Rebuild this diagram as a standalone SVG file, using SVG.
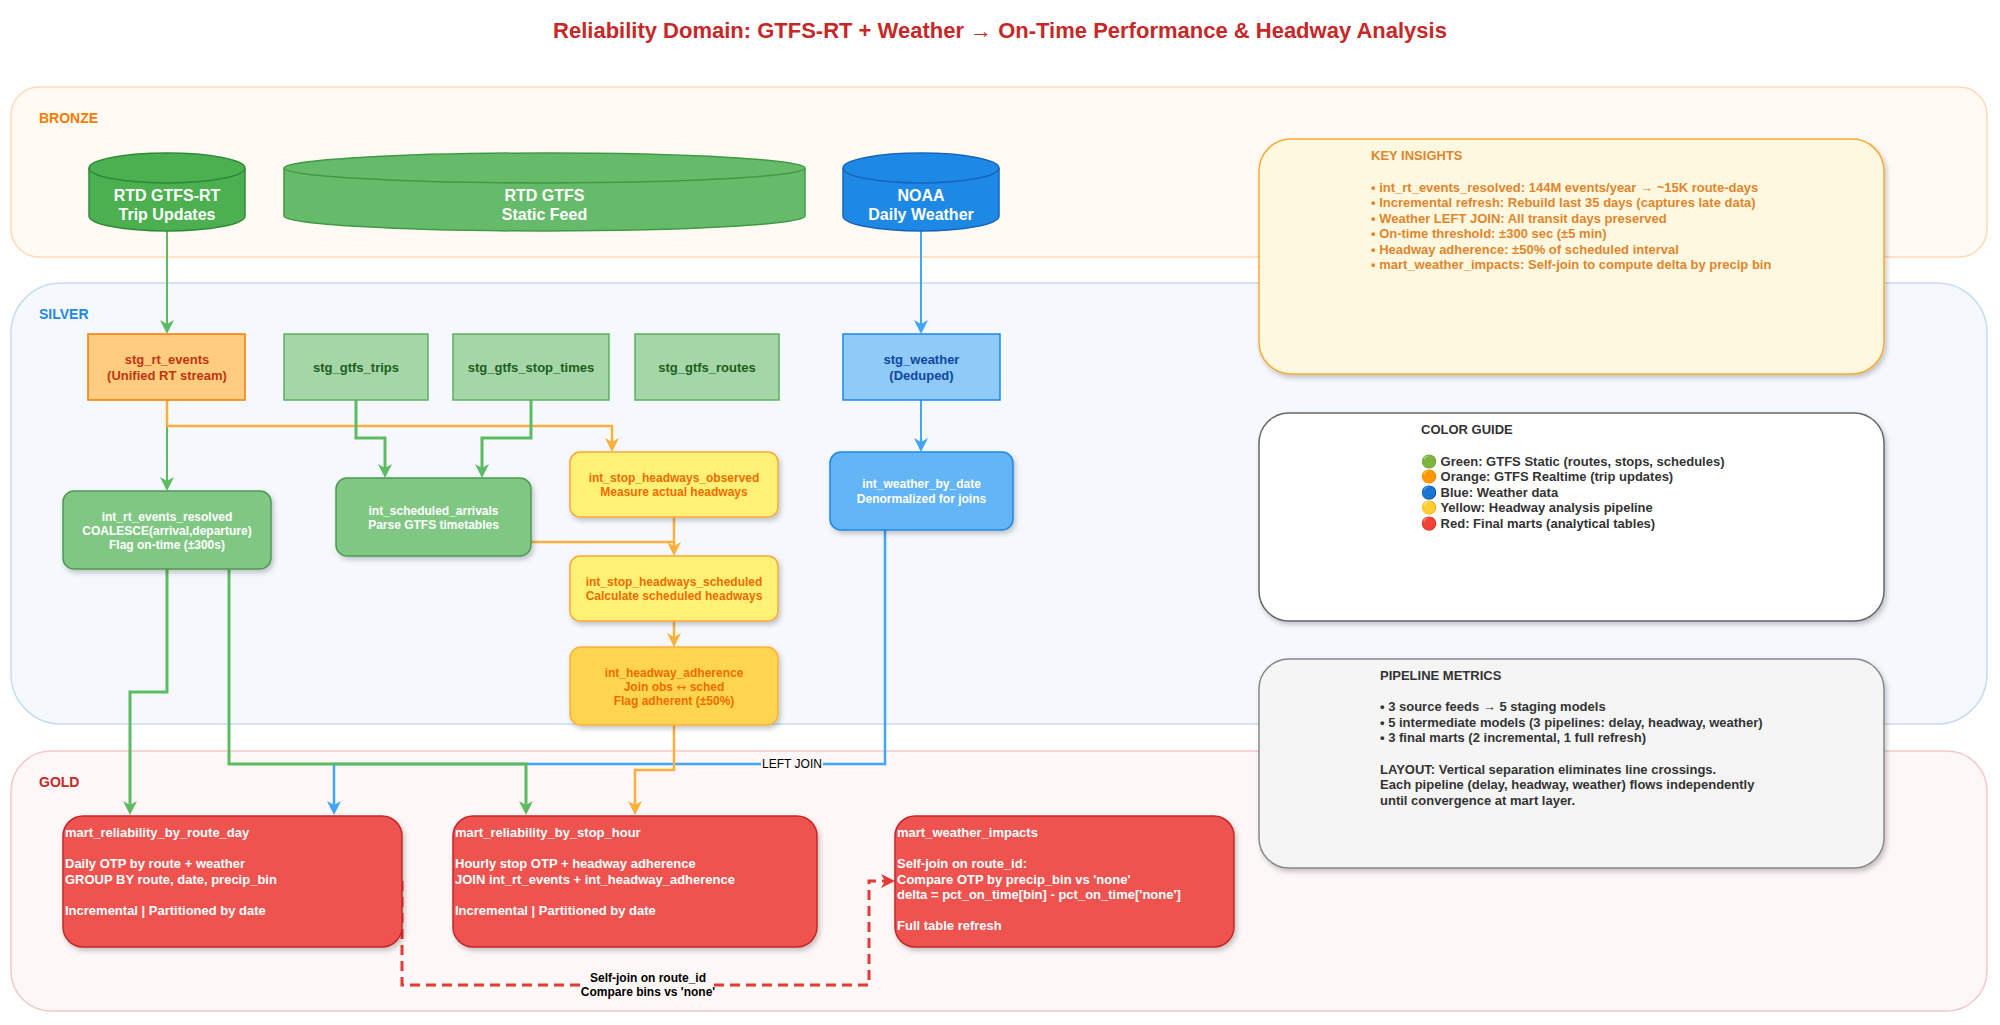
<svg xmlns="http://www.w3.org/2000/svg" width="2000" height="1025" viewBox="0 0 2000 1025">
<defs>
<style>
text { font-family: "Liberation Sans", Arial, Helvetica, sans-serif; }
.b { font-weight: bold; }
.c { text-anchor: middle; }
.title { font-size: 22px; font-weight: bold; fill: #C62828; }
.layer { font-size: 14px; font-weight: bold; }
.cyl { font-size: 16px; font-weight: bold; fill: #ffffff; text-anchor: middle; }
.stg { font-size: 13px; font-weight: bold; text-anchor: middle; }
.int { font-size: 12px; font-weight: bold; text-anchor: middle; }
.mart { font-size: 13px; font-weight: bold; fill: #ffffff; }
.side { font-size: 13px; font-weight: bold; }
.lbl { font-size: 12px; fill: #000000; }
.sym { font-family: "DejaVu Sans", sans-serif; }
.e { fill: none; stroke-linejoin: miter; }
.g { stroke: #5DBB63; }
.o { stroke: #FBB03B; }
.bl { stroke: #42A5F5; }
</style>
<filter id="sh" x="-10%" y="-10%" width="130%" height="140%">
<feDropShadow dx="2" dy="3" stdDeviation="2.5" flood-color="#000" flood-opacity="0.22"/>
</filter>
<marker id="ag" viewBox="0 0 14 14" markerWidth="14" markerHeight="14" refX="7" refY="7" orient="auto" markerUnits="userSpaceOnUse"><path d="M0,0 L14,7 L0,14 L4,7 Z" fill="#5DBB63"/></marker>
<marker id="ao" viewBox="0 0 14 14" markerWidth="14" markerHeight="14" refX="7" refY="7" orient="auto" markerUnits="userSpaceOnUse"><path d="M0,0 L14,7 L0,14 L4,7 Z" fill="#FBB03B"/></marker>
<marker id="ab" viewBox="0 0 14 14" markerWidth="14" markerHeight="14" refX="7" refY="7" orient="auto" markerUnits="userSpaceOnUse"><path d="M0,0 L14,7 L0,14 L4,7 Z" fill="#42A5F5"/></marker>
<marker id="ar" viewBox="0 0 14 14" markerWidth="14" markerHeight="14" refX="7" refY="7" orient="auto" markerUnits="userSpaceOnUse"><path d="M0,0 L14,7 L0,14 L4,7 Z" fill="#E53935"/></marker>
</defs>
<rect width="2000" height="1025" fill="#ffffff"/>

<text class="title c" x="1000" y="38">Reliability Domain: GTFS-RT + Weather → On-Time Performance &amp; Headway Analysis</text>

<!-- Layers -->
<g id="layer-bronze">
<rect x="11" y="87" width="1976" height="170" rx="28" fill="#FFFAF4" stroke="#FFD9B5" stroke-width="1.5"/>
<text class="layer" x="39" y="123" fill="#F57C00">BRONZE</text>
</g>
<g id="layer-silver">
<rect x="11" y="283" width="1976" height="441" rx="50" fill="#F5F9FE" stroke="#C5DCF2" stroke-width="1.5"/>
<text class="layer" x="39" y="319" fill="#1E88E5">SILVER</text>
</g>
<g id="layer-gold">
<rect x="11" y="751" width="1976" height="260" rx="40" fill="#FDF7F7" stroke="#F5C8C8" stroke-width="1.5"/>
<text class="layer" x="39" y="787" fill="#C62828">GOLD</text>
</g>

<!-- Connectors -->
<g id="connectors" stroke-width="2">
<path class="e g" d="M167,231 V327" marker-end="url(#ag)"/>
<path class="e bl" d="M921,231 V327" marker-end="url(#ab)"/>
<path class="e g" d="M167,426 V484" marker-end="url(#ag)"/>
<path class="e o" d="M167,400 V426 H612 V445" marker-end="url(#ao)" stroke-width="2.5"/>
<path class="e g" d="M356,400 V438 H385 V471" marker-end="url(#ag)" stroke-width="3"/>
<path class="e g" d="M531,400 V438 H482 V471" marker-end="url(#ag)" stroke-width="3"/>
<path class="e o" d="M531,542 H674" stroke-width="2.5"/>
<path class="e o" d="M674,517 V549" marker-end="url(#ao)" stroke-width="2.5"/>
<path class="e o" d="M674,621 V640" marker-end="url(#ao)" stroke-width="2.5"/>
<path class="e bl" d="M921,400 V445" marker-end="url(#ab)"/>
<path class="e bl" d="M885,530 V764 H334 V808" marker-end="url(#ab)" stroke-width="2.5"/>
<rect x="761" y="756" width="62" height="15" fill="#FDF7F7"/>
<text class="lbl c" x="792" y="768">LEFT JOIN</text>
<path class="e g" d="M167,569 V692 H130 V808" marker-end="url(#ag)" stroke-width="3"/>
<path class="e g" d="M229,569 V764 H526 V808" marker-end="url(#ag)" stroke-width="3"/>
<path class="e o" d="M674,725 V770 H635 V808" marker-end="url(#ao)" stroke-width="2.5"/>
<path class="e" d="M402,881 V985 H869 V881 H888" stroke="#E53935" stroke-width="3" stroke-dasharray="10 6" marker-end="url(#ar)"/>
<rect x="585" y="970" width="126" height="30" fill="#FDF7F7"/>
<text class="lbl b c" x="648" y="982">Self-join on route_id</text>
<text class="lbl b c" x="648" y="996">Compare bins vs 'none'</text>
</g>

<!-- Bronze sources -->
<g id="src-gtfs-rt">
<path d="M89,168 V216 A78,15 0 0 0 245,216 V168 A78,15 0 0 0 89,168 Z" fill="#4CAF50" stroke="#2E8B37" stroke-width="1.5"/>
<path d="M89,168 A78,15 0 0 0 245,168" fill="none" stroke="#2E8B37" stroke-width="1.5"/>
<text class="cyl" x="167" y="201">RTD GTFS-RT</text>
<text class="cyl" x="167" y="220">Trip Updates</text>
</g>
<g id="src-gtfs-static">
<path d="M284,168 V216 A260.5,15 0 0 0 805,216 V168 A260.5,15 0 0 0 284,168 Z" fill="#66BB6A" stroke="#3E9A43" stroke-width="1.5"/>
<path d="M284,168 A260.5,15 0 0 0 805,168" fill="none" stroke="#3E9A43" stroke-width="1.5"/>
<text class="cyl" x="544.5" y="201">RTD GTFS</text>
<text class="cyl" x="544.5" y="220">Static Feed</text>
</g>
<g id="src-noaa">
<path d="M843,168 V216 A78,15 0 0 0 999,216 V168 A78,15 0 0 0 843,168 Z" fill="#1E88E5" stroke="#1565C0" stroke-width="1.5"/>
<path d="M843,168 A78,15 0 0 0 999,168" fill="none" stroke="#1565C0" stroke-width="1.5"/>
<text class="cyl" x="921" y="201">NOAA</text>
<text class="cyl" x="921" y="220">Daily Weather</text>
</g>

<!-- Silver staging -->
<g id="stg_rt_events">
<rect x="88" y="334" width="157" height="66" fill="#FFCC80" stroke="#F57C00" stroke-width="1.5"/>
<text class="stg" x="167" y="363.5" fill="#BF360C">stg_rt_events</text>
<text class="stg" x="167" y="379.5" fill="#BF360C">(Unified RT stream)</text>
</g>
<g id="stg_gtfs_trips">
<rect x="284" y="334" width="144" height="66" fill="#A5D6A7" stroke="#5DAE61" stroke-width="1.5"/>
<text class="stg" x="356" y="371.5" fill="#1B5E20">stg_gtfs_trips</text>
</g>
<g id="stg_gtfs_stop_times">
<rect x="453" y="334" width="156" height="66" fill="#A5D6A7" stroke="#5DAE61" stroke-width="1.5"/>
<text class="stg" x="531" y="371.5" fill="#1B5E20">stg_gtfs_stop_times</text>
</g>
<g id="stg_gtfs_routes">
<rect x="635" y="334" width="144" height="66" fill="#A5D6A7" stroke="#5DAE61" stroke-width="1.5"/>
<text class="stg" x="707" y="371.5" fill="#1B5E20">stg_gtfs_routes</text>
</g>
<g id="stg_weather">
<rect x="843" y="334" width="157" height="66" fill="#90CAF9" stroke="#1E88E5" stroke-width="1.5"/>
<text class="stg" x="921.5" y="363.5" fill="#0D47A1">stg_weather</text>
<text class="stg" x="921.5" y="379.5" fill="#0D47A1">(Deduped)</text>
</g>

<!-- Silver intermediate -->
<g id="int_rt_events_resolved">
<rect x="63" y="491" width="208" height="78" rx="11" fill="#81C784" stroke="#4E9A52" stroke-width="1.5" filter="url(#sh)"/>
<text class="int" x="167" y="521" fill="#fff">int_rt_events_resolved</text>
<text class="int" x="167" y="534.5" fill="#fff">COALESCE(arrival,departure)</text>
<text class="int" x="167" y="548.5" fill="#fff">Flag on-time (±300s)</text>
</g>
<g id="int_scheduled_arrivals">
<rect x="336" y="478" width="195" height="78" rx="11" fill="#81C784" stroke="#4E9A52" stroke-width="1.5" filter="url(#sh)"/>
<text class="int" x="433.5" y="514.5" fill="#fff">int_scheduled_arrivals</text>
<text class="int" x="433.5" y="528.5" fill="#fff">Parse GTFS timetables</text>
</g>
<g id="int_stop_headways_observed">
<rect x="570" y="452" width="208" height="65" rx="10" fill="#FFF176" stroke="#F9A73B" stroke-width="1.5" filter="url(#sh)"/>
<text class="int" x="674" y="481.5" fill="#EF6C00">int_stop_headways_observed</text>
<text class="int" x="674" y="496" fill="#EF6C00">Measure actual headways</text>
</g>
<g id="int_stop_headways_scheduled">
<rect x="570" y="556" width="208" height="65" rx="10" fill="#FFF176" stroke="#F9A73B" stroke-width="1.5" filter="url(#sh)"/>
<text class="int" x="674" y="585.5" fill="#EF6C00">int_stop_headways_scheduled</text>
<text class="int" x="674" y="600" fill="#EF6C00">Calculate scheduled headways</text>
</g>
<g id="int_headway_adherence">
<rect x="570" y="647" width="208" height="78" rx="11" fill="#FFD54F" stroke="#FBB03B" stroke-width="1.5" filter="url(#sh)"/>
<text class="int" x="674" y="677" fill="#EF6C00">int_headway_adherence</text>
<text class="int" x="674" y="691" fill="#EF6C00">Join obs <tspan class="sym" font-weight="normal">↔</tspan> sched</text>
<text class="int" x="674" y="705" fill="#EF6C00">Flag adherent (±50%)</text>
</g>
<g id="int_weather_by_date">
<rect x="830" y="452" width="183" height="78" rx="11" fill="#64B5F6" stroke="#1E88E5" stroke-width="1.5" filter="url(#sh)"/>
<text class="int" x="921.5" y="487.5" fill="#fff">int_weather_by_date</text>
<text class="int" x="921.5" y="502.5" fill="#fff">Denormalized for joins</text>
</g>

<!-- Gold marts -->
<g id="mart_reliability_by_route_day">
<rect x="63" y="816" width="339" height="131" rx="20" fill="#EF5350" stroke="#C62828" stroke-width="1.5" filter="url(#sh)"/>
<text class="mart" x="65" y="837">mart_reliability_by_route_day</text>
<text class="mart" x="65" y="868">Daily OTP by route + weather</text>
<text class="mart" x="65" y="883.5">GROUP BY route, date, precip_bin</text>
<text class="mart" x="65" y="914.5">Incremental | Partitioned by date</text>
</g>
<g id="mart_reliability_by_stop_hour">
<rect x="453" y="816" width="364" height="131" rx="20" fill="#EF5350" stroke="#C62828" stroke-width="1.5" filter="url(#sh)"/>
<text class="mart" x="455" y="837">mart_reliability_by_stop_hour</text>
<text class="mart" x="455" y="868">Hourly stop OTP + headway adherence</text>
<text class="mart" x="455" y="883.5">JOIN int_rt_events + int_headway_adherence</text>
<text class="mart" x="455" y="914.5">Incremental | Partitioned by date</text>
</g>
<g id="mart_weather_impacts">
<rect x="895" y="816" width="339" height="131" rx="20" fill="#EF5350" stroke="#C62828" stroke-width="1.5" filter="url(#sh)"/>
<text class="mart" x="897" y="837">mart_weather_impacts</text>
<text class="mart" x="897" y="868">Self-join on route_id:</text>
<text class="mart" x="897" y="883.5">Compare OTP by precip_bin vs 'none'</text>
<text class="mart" x="897" y="899">delta = pct_on_time[bin] - pct_on_time['none']</text>
<text class="mart" x="897" y="930">Full table refresh</text>
</g>

<!-- Side panels -->
<g id="key-insights">
<rect x="1259" y="139" width="625" height="235" rx="32" fill="#FFF8E1" stroke="#F5AB35" stroke-width="1.5" filter="url(#sh)"/>
<g class="side" fill="#E0852B">
<text x="1371" y="160">KEY INSIGHTS</text>
<text x="1371" y="191.5">• int_rt_events_resolved: 144M events/year → ~15K route-days</text>
<text x="1371" y="207">• Incremental refresh: Rebuild last 35 days (captures late data)</text>
<text x="1371" y="222.5">• Weather LEFT JOIN: All transit days preserved</text>
<text x="1371" y="238">• On-time threshold: ±300 sec (±5 min)</text>
<text x="1371" y="253.5">• Headway adherence: ±50% of scheduled interval</text>
<text x="1371" y="269">• mart_weather_impacts: Self-join to compute delta by precip bin</text>
</g>
</g>
<g id="color-guide">
<rect x="1259" y="413" width="625" height="208" rx="30" fill="#FFFFFF" stroke="#666666" stroke-width="1.5" filter="url(#sh)"/>
<g class="side" fill="#333333">
<text x="1421" y="433.5">COLOR GUIDE</text>
<text x="1421" y="465.5">🟢 Green: GTFS Static (routes, stops, schedules)</text>
<text x="1421" y="481">🟠 Orange: GTFS Realtime (trip updates)</text>
<text x="1421" y="496.5">🔵 Blue: Weather data</text>
<text x="1421" y="512">🟡 Yellow: Headway analysis pipeline</text>
<text x="1421" y="527.5">🔴 Red: Final marts (analytical tables)</text>
</g>
</g>
<g id="pipeline-metrics">
<rect x="1259" y="659" width="625" height="209" rx="30" fill="#F5F5F5" stroke="#888888" stroke-width="1.5" filter="url(#sh)"/>
<g class="side" fill="#333333">
<text x="1380" y="679.5">PIPELINE METRICS</text>
<text x="1380" y="711">• 3 source feeds → 5 staging models</text>
<text x="1380" y="726.5">• 5 intermediate models (3 pipelines: delay, headway, weather)</text>
<text x="1380" y="742">• 3 final marts (2 incremental, 1 full refresh)</text>
<text x="1380" y="773.5">LAYOUT: Vertical separation eliminates line crossings.</text>
<text x="1380" y="789">Each pipeline (delay, headway, weather) flows independently</text>
<text x="1380" y="804.5">until convergence at mart layer.</text>
</g>
</g>
</svg>
